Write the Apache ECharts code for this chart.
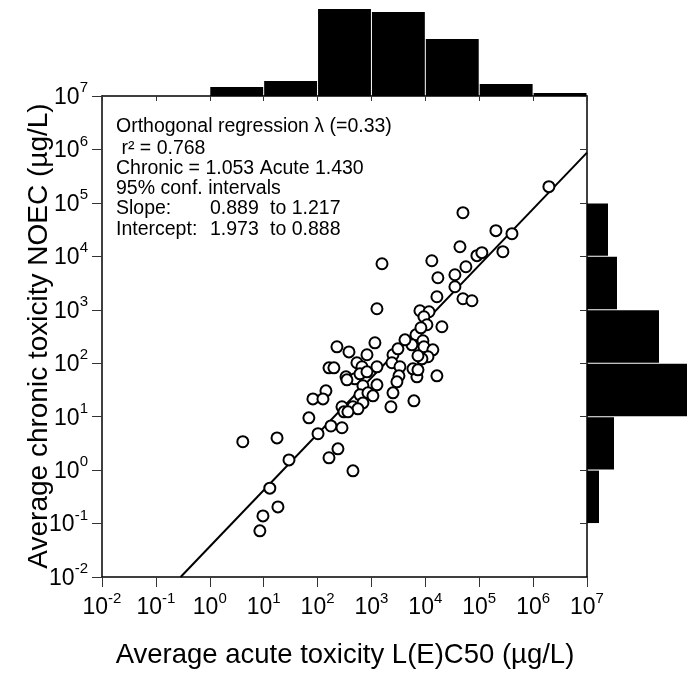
<!DOCTYPE html>
<html><head><meta charset="utf-8">
<script src="https://cdn.jsdelivr.net/npm/echarts@6/dist/echarts.min.js"></script>
<style>html,body{margin:0;padding:0;background:#fff}#c{width:687px;height:676px}</style>
</head><body><div id="c"></div>
<script>
// Average acute toxicity L(E)C50 (µg/L) per substance
const acute = [1963000,4.99e4,2.04e5,4.05e5,4.39e4,1.32e4,9.06e4,1.12e5,2.75e5,5.66e4,
  1.71e4,3.54e4,3.54e4,1570,1.64e4,4.99e4,7.33e4,1265,7940,1.17e4,
  9420,1.07e4,2.03e4,6700,9020,9420,1.38e4,1.12e4,8650,1.64e4,
  6980,5890,229,383,1160,826,2510,3100,538,667,
  1265,2400,3380,163,201,337,494,612,826,3240,
  2970,1265,695,143,351,82,126,612,861,1066,
  2510,695,284,454,562,309,366,2300,6140,69,
  177,284,102,17.7,4.1,239,163,29.5,454,13,
  18.4,9.7,8.5,8280,7300,5640,4190,7300];
// Average chronic toxicity NOEC (µg/L) per substance
const chronic = [2.01e5,6.55e4,3.02e4,2.65e4,1.51e4,8270,1.03e4,1.17e4,1.22e4,6380,
  3970,4520,2700,7260,1751,1607,1475,1044,958,918,
  740,524,481,340,263,203,178,132,121,58.1,
  55.6,78.5,203,163,241,144,144,186,102,85.7,
  85.7,102,85.7,82,82,55.6,51,63.3,69,58.1,
  44.9,39.4,37.8,30.4,48.9,21.5,21.5,25.6,27.9,24.5,
  27.9,18.1,15.3,15.3,14.0,12.3,12.3,15.3,19.8,9.5,
  6.7,6.2,4.8,4.0,3.4,2.5,1.7,1.55,0.97,0.46,
  0.205,0.139,0.073,460,138,221,274,75.2];
// Orthogonal regression line end points (acute, chronic)
const regressionLine = [[0.2877, 0.01], [1e7, 8.71e5]];
// Histogram bins: decade lower exponents and counts
const binLowExp = [-2,-1,0,1,2,3,4,5,6];
const acuteHistCounts = [0,0,3,5,29,28,19,4,1];
const chronicHistCounts = [0,4,9,34,24,10,7,0,0];
// Annotation lines
const annoLines = ['Orthogonal regression \u03bb (=0.33)', ' r\u00b2 = 0.768', 'Chronic = 1.053 Acute 1.430', '95% conf. intervals'];
const slopeRow = ['Slope:', '0.889', 'to 1.217'];
const interceptRow = ['Intercept:', '1.973', 'to 0.888'];
const xTitle = 'Average acute toxicity L(E)C50 (\u00b5g/L)';
const yTitle = 'Average chronic toxicity NOEC (\u00b5g/L)';

const FONT = 'Liberation Sans, Arial, Helvetica, sans-serif';
const chart = echarts.init(document.getElementById('c'), null, {renderer: 'canvas'});

function expLabel(v) {
  const e = Math.round(Math.log10(v));
  return '{b|10}{s|' + e + '}';
}
const labelRich = {
  b: {fontSize: 23, fontFamily: FONT, color: '#000', padding: [3, 0, 0, 0]},
  s: {fontSize: 15, fontFamily: FONT, color: '#000', padding: [0, 0, 16, 0]}
};
const logBase = {
  type: 'log', logBase: 10, min: 0.01, max: 1e7, splitNumber: 9,
  splitLine: {show: false}, minorTick: {show: false}
};

const topHist = binLowExp.map((e, i) => [e, e + 1, acuteHistCounts[i]]);
const rightHist = binLowExp.map((e, i) => [e, e + 1, chronicHistCounts[i]]);

const baseStyle = {font: '19.5px ' + FONT, fill: '#000', verticalAlign: 'middle', align: 'left'};
const annoY = [126.5, 149, 169, 189, 209, 229.5];
const graphics = [];
annoLines.forEach((t, i) => graphics.push({type: 'text', x: 116, y: annoY[i], style: Object.assign({text: t}, baseStyle)}));
[slopeRow, interceptRow].forEach((row, j) => {
  const y = annoY[4 + j];
  graphics.push({type: 'text', x: 116, y: y, style: Object.assign({text: row[0]}, baseStyle)});
  graphics.push({type: 'text', x: 210, y: y, style: Object.assign({text: row[1]}, baseStyle)});
  graphics.push({type: 'text', x: 270, y: y, style: Object.assign({text: row[2]}, baseStyle)});
});
graphics.push({type: 'text', x: 345, y: 655, style: {text: xTitle, font: '27.5px ' + FONT, fill: '#000', align: 'center', verticalAlign: 'middle'}});
graphics.push({type: 'text', x: 39, y: 336, rotation: Math.PI / 2, style: {text: yTitle, font: '28px ' + FONT, fill: '#000', align: 'center', verticalAlign: 'middle'}});

chart.setOption({
  animation: false,
  backgroundColor: '#fff',
  grid: [
    {left: 102, top: 96, width: 485, height: 481},
    {left: 102, top: 0, width: 485, height: 96},
    {left: 587, top: 96, width: 100, height: 481}
  ],
  xAxis: [
    Object.assign({}, logBase, {gridIndex: 0, position: 'bottom',
      axisLine: {show: true, lineStyle: {color: '#000', width: 1.5}},
      axisTick: {show: true, inside: false, length: 10, lineStyle: {color: '#333', width: 1}},
      axisLabel: {show: true, interval: 0, margin: 14, formatter: expLabel, rich: labelRich, hideOverlap: false}}),
    Object.assign({}, logBase, {gridIndex: 0, position: 'top',
      axisLine: {show: true, lineStyle: {color: '#000', width: 1.5}},
      axisTick: {show: true, inside: true, length: 5, lineStyle: {color: '#333', width: 1}},
      axisLabel: {show: false}}),
    {type: 'value', gridIndex: 1, min: -2, max: 7, show: false},
    {type: 'value', gridIndex: 2, min: 0, max: 100 / 3, show: false}
  ],
  yAxis: [
    Object.assign({}, logBase, {gridIndex: 0, position: 'left',
      axisLine: {show: true, lineStyle: {color: '#000', width: 1.5}},
      axisTick: {show: true, inside: false, length: 10, lineStyle: {color: '#333', width: 1}},
      axisLabel: {show: true, interval: 0, margin: 14, formatter: expLabel, rich: labelRich, hideOverlap: false}}),
    Object.assign({}, logBase, {gridIndex: 0, position: 'right',
      axisLine: {show: true, lineStyle: {color: '#000', width: 1.5}},
      axisTick: {show: true, inside: true, length: 7, lineStyle: {color: '#333', width: 1}},
      axisLabel: {show: false}}),
    {type: 'value', gridIndex: 1, min: 0, max: 32, show: false},
    {type: 'value', gridIndex: 2, min: -2, max: 7, show: false}
  ],
  series: [
    {type: 'line', xAxisIndex: 0, yAxisIndex: 0, data: regressionLine, symbol: 'none',
      lineStyle: {color: '#000', width: 2}, z: 2, silent: true},
    {type: 'scatter', xAxisIndex: 0, yAxisIndex: 0, data: acute.map((a, i) => [a, chronic[i]]),
      symbol: 'circle', symbolSize: 11,
      itemStyle: {color: '#fff', borderColor: '#000', borderWidth: 2, opacity: 1}, z: 3},
    {type: 'custom', xAxisIndex: 2, yAxisIndex: 2, data: topHist, encode: {x: [0, 1], y: 2},
      renderItem: function (params, api) {
        const p0 = api.coord([api.value(0), 0]);
        const p1 = api.coord([api.value(1), api.value(2)]);
        return {type: 'rect', shape: {x: p0[0] + 0.5, y: p1[1], width: p1[0] - p0[0] - 1, height: p0[1] - p1[1]},
          style: {fill: '#000'}};
      }},
    {type: 'custom', xAxisIndex: 3, yAxisIndex: 3, data: rightHist, encode: {x: 2, y: [0, 1]},
      renderItem: function (params, api) {
        const p0 = api.coord([0, api.value(0)]);
        const p1 = api.coord([api.value(2), api.value(1)]);
        return {type: 'rect', shape: {x: p0[0], y: p1[1] + 0.5, width: p1[0] - p0[0], height: p0[1] - p1[1] - 1},
          style: {fill: '#000'}};
      }}
  ],
  graphic: graphics
});
</script></body></html>
